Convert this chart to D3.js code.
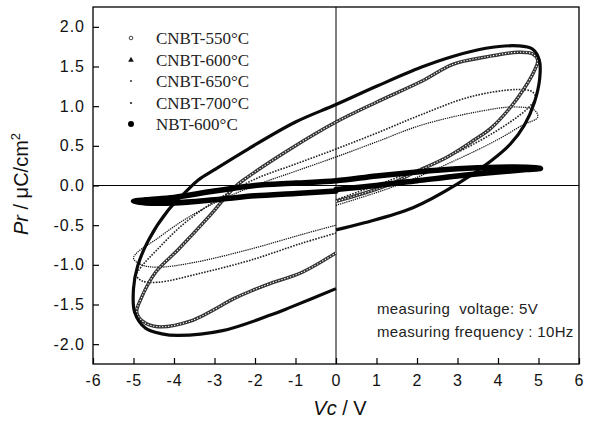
<!DOCTYPE html>
<html>
<head>
<meta charset="utf-8">
<script src="https://cdn.jsdelivr.net/npm/d3@7"></script>
<style>
  body { margin: 0; background: #fff; }
  svg { display: block; }
</style>
</head>
<body>
<svg id="chart" width="592" height="425"></svg>
<script>
// ---- data (V, P) ----
const xTicks = [-6, -5, -4, -3, -2, -1, 0, 1, 2, 3, 4, 5, 6];
const yTicks = [-2.0, -1.5, -1.0, -0.5, 0.0, 0.5, 1.0, 1.5, 2.0];
const seriesNames = ["CNBT-550°C", "CNBT-600°C", "CNBT-650°C", "CNBT-700°C", "NBT-600°C"];

const cnbt550 = [[0,-0.2],[0.8,-0.08],[1.4,0.03],[1.92,0.16],[2.75,0.36],[3.4,0.57],[3.82,0.72],[4.3,0.98],[4.63,1.21],[4.9,1.45],[4.98,1.58],[4.85,1.66],[4.5,1.68],[3.7,1.62],[2.9,1.53],[2.1,1.31],[1.0,1.05],[0,0.8],[-1.1,0.47],[-2.2,0.1],[-2.5,-0.02],[-3.15,-0.4],[-3.9,-0.81],[-4.45,-1.09],[-4.8,-1.41],[-4.92,-1.6],[-4.75,-1.72],[-4.4,-1.78],[-3.6,-1.71],[-2.5,-1.42],[-2.1,-1.33],[-1.6,-1.23],[-0.86,-1.1],[0,-0.85]];

const cnbt600 = [[0,-0.56],[0.7,-0.47],[1.9,-0.28],[3.0,0.02],[3.8,0.3],[4.3,0.52],[4.65,0.76],[4.9,1.05],[5.03,1.35],[5.02,1.58],[4.85,1.72],[4.5,1.76],[3.7,1.73],[2.9,1.63],[2.1,1.49],[1.0,1.25],[0,1.02],[-1.0,0.8],[-2.17,0.46],[-3.0,0.2],[-3.4,0.07],[-3.65,-0.05],[-4.14,-0.31],[-4.63,-0.69],[-4.9,-1.02],[-5.0,-1.3],[-4.97,-1.6],[-4.7,-1.8],[-4.3,-1.87],[-3.9,-1.89],[-2.8,-1.83],[-1.6,-1.63],[-1.1,-1.53],[0,-1.3]];

const cnbt650 = [[0,-0.18],[1.35,0.07],[2.5,0.3],[3.5,0.55],[4.3,0.8],[4.75,0.98],[4.93,1.1],[4.85,1.18],[4.48,1.21],[3.33,1.12],[2.09,0.89],[1.0,0.66],[0,0.46],[-1,0.27],[-2,0.08],[-3,-0.2],[-3.8,-0.5],[-4.4,-0.8],[-4.8,-1.02],[-4.93,-1.13],[-4.8,-1.2],[-4.4,-1.22],[-3.3,-1.1],[-2.1,-0.94],[-0.86,-0.73],[0,-0.6]];

const cnbt700 = [[0,-0.25],[1.5,0.0],[3.0,0.33],[4.0,0.58],[4.6,0.76],[4.98,0.86],[4.9,0.95],[4.4,0.99],[3.5,0.93],[2.1,0.76],[1.0,0.55],[0,0.36],[-1,0.18],[-2,0.0],[-3,-0.22],[-3.8,-0.45],[-4.5,-0.7],[-4.9,-0.84],[-5.0,-0.92],[-4.8,-1.0],[-4.4,-1.03],[-3.5,-0.97],[-2.1,-0.8],[-0.86,-0.62],[0,-0.5]];

const nbt600 = [[0,-0.05],[1,0.0],[2,0.06],[3,0.12],[4,0.17],[4.7,0.2],[5.05,0.215],[4.7,0.23],[4,0.23],[3,0.21],[2,0.17],[1,0.12],[0,0.06],[-1,0.03],[-2,0.0],[-3,-0.07],[-4,-0.15],[-4.7,-0.18],[-5.0,-0.2],[-4.7,-0.22],[-4,-0.22],[-3,-0.18],[-2,-0.13],[-1,-0.1],[0,-0.07]];

// ---- layout ----
const svg = d3.select("#chart");
const L = 93, R = 579, T = 7, B = 364;
const x = d3.scaleLinear().domain([-6, 6]).range([L, R]);
const y = d3.scaleLinear().domain([-2.25, 2.25]).range([B, T]);

// zero lines
svg.append("line").attr("x1", x(0)).attr("x2", x(0)).attr("y1", T).attr("y2", B)
  .attr("stroke", "#000").attr("stroke-width", 1);
svg.append("line").attr("x1", L).attr("x2", R).attr("y1", y(0)).attr("y2", y(0))
  .attr("stroke", "#000").attr("stroke-width", 1);

const line = d3.line().x(d => x(d[0])).y(d => y(d[1])).curve(d3.curveCatmullRom.alpha(0.5));
const plot = svg.append("g");

// CNBT-650 dotted
plot.append("path").attr("d", line(cnbt650)).attr("fill", "none")
  .attr("stroke", "#222").attr("stroke-width", 1.6).attr("stroke-dasharray", "1.6,1.3");
// CNBT-700 fine dots
plot.append("path").attr("d", line(cnbt700)).attr("fill", "none")
  .attr("stroke", "#111").attr("stroke-width", 1.2).attr("stroke-dasharray", "1.3,0.9");
// CNBT-550 chain of open circles
plot.append("path").attr("d", line(cnbt550)).attr("fill", "none")
  .attr("stroke", "#333").attr("stroke-width", 3.4);
plot.append("path").attr("d", line(cnbt550)).attr("fill", "none")
  .attr("stroke", "#fff").attr("stroke-width", 1.1).attr("stroke-dasharray", "1.3,1.7");
// CNBT-600 triangles (solid black)
plot.append("path").attr("d", line(cnbt600)).attr("fill", "none")
  .attr("stroke", "#0a0a0a").attr("stroke-width", 3.2).attr("stroke-linejoin", "round");
// NBT-600 big filled circles
plot.append("path").attr("d", line(nbt600)).attr("fill", "none")
  .attr("stroke", "#000").attr("stroke-width", 5.5).attr("stroke-linecap", "round").attr("stroke-linejoin", "round");

// axes
const tickFont = "'Liberation Sans', Arial, sans-serif";
const ax = svg.append("g").attr("transform", `translate(0,${B})`)
  .call(d3.axisBottom(x).tickValues(xTicks).tickSizeInner(-6).tickSizeOuter(0).tickPadding(11).tickFormat(d => String(d)));
const ay = svg.append("g").attr("transform", `translate(${L},0)`)
  .call(d3.axisLeft(y).tickValues(yTicks).tickSizeInner(-6).tickSizeOuter(0).tickPadding(8).tickFormat(d => d.toFixed(1)));
[ax, ay].forEach(g => {
  g.select(".domain").remove();
  g.selectAll(".tick line").attr("stroke", "#000").attr("stroke-width", 1.2);
  g.selectAll(".tick text").attr("fill", "#111").style("font-family", tickFont)
    .style("font-size", "16px").style("letter-spacing", "1px");
});
svg.append("rect").attr("x", L).attr("y", T).attr("width", R - L).attr("height", B - T)
  .attr("fill", "none").attr("stroke", "#000").attr("stroke-width", 1.3);

// axis titles
const yt = svg.append("text").attr("transform", `translate(28,184) rotate(-90)`)
  .attr("text-anchor", "middle").style("font-family", tickFont).style("font-size", "20px").attr("fill", "#111");
yt.append("tspan").style("font-style", "italic").text("Pr");
yt.append("tspan").text(" / μC/cm");
yt.append("tspan").attr("dy", -8).style("font-size", "13px").text("2");

const xt = svg.append("text").attr("x", 340).attr("y", 415).attr("text-anchor", "middle")
  .style("font-family", tickFont).style("font-size", "20px").attr("fill", "#111");
xt.append("tspan").style("font-style", "italic").text("Vc");
xt.append("tspan").text(" / V");

// legend
const lg = svg.append("g");
const rowY = [38, 60, 81, 103, 124];
lg.selectAll("text").data(seriesNames).join("text")
  .attr("x", 156).attr("y", (d, i) => rowY[i] + 6)
  .style("font-family", "'Liberation Serif', 'Times New Roman', serif").style("font-size", "17px").attr("fill", "#222")
  .text(d => d);
const mx = 131;
lg.append("circle").attr("cx", mx).attr("cy", rowY[0]).attr("r", 1.8).attr("fill", "none").attr("stroke", "#444").attr("stroke-width", 1);
lg.append("path").attr("d", d3.symbol(d3.symbolTriangle, 14)()).attr("transform", `translate(${mx},${rowY[1]})`).attr("fill", "#111");
lg.append("circle").attr("cx", mx).attr("cy", rowY[2]).attr("r", 1).attr("fill", "#333");
lg.append("circle").attr("cx", mx).attr("cy", rowY[3]).attr("r", 1.1).attr("fill", "#222");
lg.append("circle").attr("cx", mx).attr("cy", rowY[4]).attr("r", 3).attr("fill", "#000");

// annotation
const an = svg.append("g").style("font-family", tickFont).style("font-size", "15px").attr("fill", "#222");
an.append("text").attr("x", 377).attr("y", 314).style("letter-spacing", "0.35px").style("white-space", "pre").text("measuring  voltage: 5V");
an.append("text").attr("x", 377).attr("y", 337).style("letter-spacing", "0.35px").style("white-space", "pre").text("measuring frequency : 10Hz");
</script>
</body>
</html>
